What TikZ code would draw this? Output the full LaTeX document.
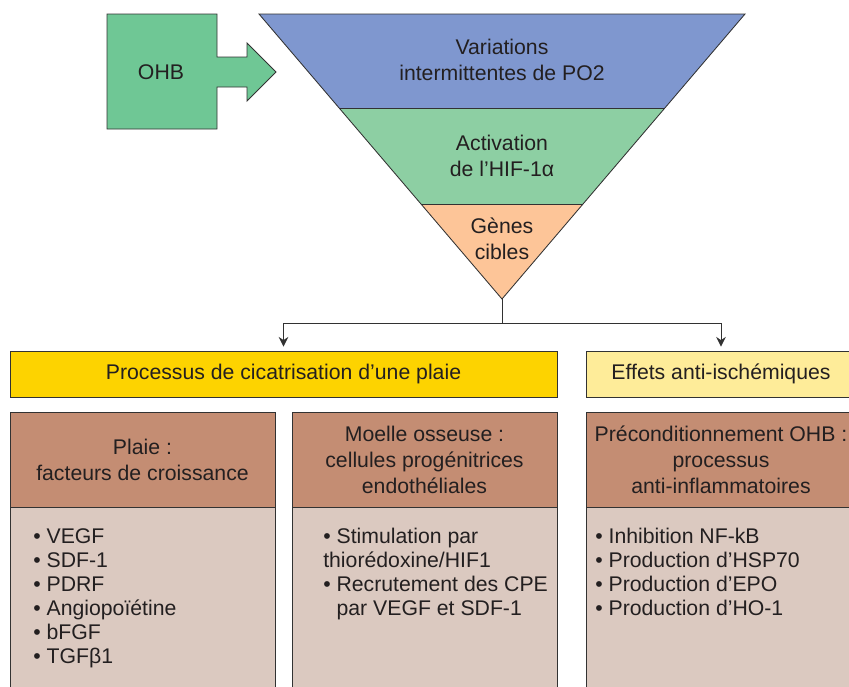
\documentclass[tikz,border=0pt]{standalone}
\usepackage{fontspec}
\setmainfont{Liberation Sans}
\usetikzlibrary{positioning,arrows.meta}
\definecolor{bleu}{RGB}{127,151,207}
\definecolor{vertclair}{RGB}{141,207,163}
\definecolor{peche}{RGB}{253,197,152}
\definecolor{vertohb}{RGB}{111,199,149}
\definecolor{jaune}{RGB}{253,211,0}
\definecolor{jaunepale}{RGB}{254,236,153}
\definecolor{brun}{RGB}{196,141,115}
\definecolor{beige}{RGB}{219,201,192}
\definecolor{encre}{RGB}{35,31,32}
\definecolor{contour}{RGB}{50,50,50}

\begin{document}
\begin{tikzpicture}[x=0.025cm, y=-0.025cm,
  trait/.style={draw=contour, line width=0.6pt},
  texte/.style={font=\fontsize{15.1}{18.5}\selectfont, text=encre,
    align=center, inner sep=0pt},
  bandeau/.style={trait, minimum height=1.15cm, inner sep=0pt,
    font=\fontsize{15.1}{18}\selectfont, text=encre},
  entete/.style={trait, fill=brun, texte, minimum height=2.375cm},
  corps/.style={trait, fill=beige, minimum height=4.9cm, inner sep=0pt},
  liste/.style={font=\fontsize{15.1}{17.1}\selectfont, text=encre,
    align=left, inner sep=0pt, anchor=north west},
  fleche/.style={-{Stealth[length=2.4mm,width=2.4mm]}, draw=contour,
    line width=0.6pt, shorten >=1mm}
]
\useasboundingbox (0,0) rectangle (849,686);
\clip (0,0) rectangle (849,686);
% OHB
\draw[trait, fill=vertohb] (107,14) -- (217,14) -- (217,57) -- (247,57)
  -- (247,43) -- (276,72) -- (247,101) -- (247,87) -- (217,87)
  -- (217,129) -- (107,129) -- cycle;
\node[texte] (ohb) at (161,72) {OHB};
% Triangle inverse
\fill[bleu] (259,14) -- (745,14) -- (664.9,108) -- (339.1,108) -- cycle;
\fill[vertclair] (339.1,108) -- (664.9,108) -- (583,204) -- (421,204) -- cycle;
\fill[peche] (421,204) -- (583,204) -- (502,299) -- cycle;
\draw[trait] (259,14) -- (745,14) -- (502,299) -- cycle;
\draw[trait] (339.1,108) -- (664.9,108) (421,204) -- (583,204);
\node[texte] (variations) at (502,60) {Variations\\ intermittentes de PO2};
\node[texte] (activation) at (502,156) {Activation\\ de l’HIF-1α};
\node[texte] (genes) at (502,239) {Gènes\\ cibles};
% Bandeaux
\node[bandeau, fill=jaune, minimum width=13.675cm] (cica) at (283.5,374)
  {Processus de cicatrisation d’une plaie};
\node[bandeau, fill=jaunepale, minimum width=6.75cm] (anti) at (721,374)
  {Effets anti-ischémiques};
% Liaisons
\coordinate (apex) at (502,299);
\coordinate (embranchement) at (502,323);
\draw[trait] (apex) -- (embranchement);
\draw[fleche] (embranchement) -| (cica.north);
\draw[fleche] (embranchement) -| (anti.north);
% Colonne 1
\node[entete, minimum width=6.625cm] (plaie) at (142.5,459.5)
  {Plaie :\\ facteurs de croissance};
\node[corps, minimum width=6.625cm, below=0pt of plaie] (plaiec) {};
\node[liste] (facteurs) at (33,528) {• VEGF\\ • SDF-1\\ • PDRF\\
  • Angiopoïétine\\ • bFGF\\ • TGFβ1};
% Colonne 2
\node[entete, minimum width=6.625cm] (moelle) at (424.5,459.5)
  {Moelle osseuse :\\ cellules progénitrices\\ endothéliales};
\node[corps, minimum width=6.625cm, below=0pt of moelle] (moellec) {};
\node[liste] (cellules) at (323,528) {• Stimulation par\\
  thiorédoxine/HIF1\\ • Recrutement des CPE\\
  \hphantom{• }par VEGF et SDF-1};
% Colonne 3
\node[entete, minimum width=6.75cm] (precond) at (721,459.5)
  {Préconditionnement OHB :\\ processus\\ anti-inflammatoires};
\node[corps, minimum width=6.75cm, below=0pt of precond] (precondc) {};
\node[liste] (processus) at (595,528) {• Inhibition NF-kB\\
  • Production d’HSP70\\ • Production d’EPO\\ • Production d’HO-1};
\end{tikzpicture}
\end{document}
